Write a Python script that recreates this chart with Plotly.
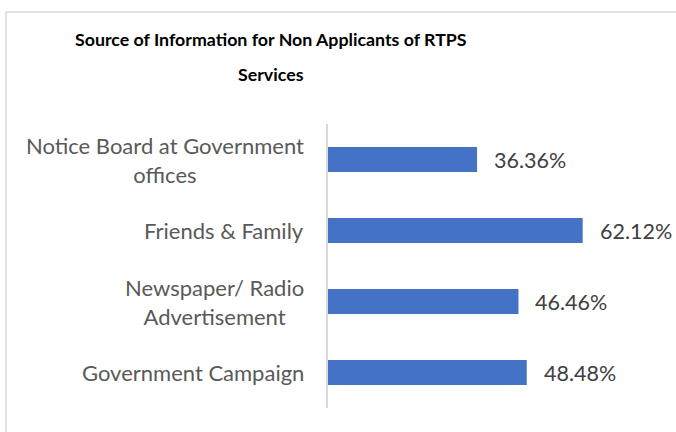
import plotly.graph_objects as go

# Survey results: share of non-applicants citing each source
categories = [
    "Notice Board at Government<br>offices",
    "Friends & Family",
    "Newspaper/ Radio<br>Advertisement",
    "Government Campaign",
]
values = [36.36, 62.12, 46.46, 48.48]

title_lines = ["Source of Information for Non Applicants of RTPS", "Services"]

W, H = 676, 432
ML, MR, MT, MB = 328, 20, 124, 24
plot_w = W - ML - MR
plot_h = H - MT - MB

FONT = "Lato"
BAR = "#4472C4"

fig = go.Figure(
    go.Bar(
        x=values,
        y=categories,
        orientation="h",
        marker=dict(color=BAR, line=dict(width=0)),
        hoverinfo="skip",
    )
)

annotations = []
# category labels, centred line by line, right of the label block at the axis
for c in categories:
    annotations.append(dict(
        x=0, y=c, xref="x", yref="y", text=c, showarrow=False,
        xanchor="right", yanchor="middle", align="center", xshift=-22,
        font=dict(family=FONT, size=22, color="#595959"),
    ))
# value labels beyond the bar ends
for c, v in zip(categories, values):
    annotations.append(dict(
        x=v, y=c, xref="x", yref="y", text=f"{v:.2f}%", showarrow=False,
        xanchor="left", yanchor="middle", xshift=15,
        font=dict(family=FONT, size=21.5, color="#404040"),
    ))
# two-line bold title
for line, ypx in zip(title_lines, [39, 74]):
    annotations.append(dict(
        x=(271 - ML) / plot_w, y=(H - MB - ypx) / plot_h,
        xref="paper", yref="paper", text=f"<b>{line}</b>", showarrow=False,
        xanchor="center", yanchor="middle",
        font=dict(family=FONT, size=17.8, color="#000000"),
    ))

fig.update_layout(
    width=W, height=H,
    margin=dict(l=ML, r=MR, t=MT, b=MB),
    paper_bgcolor="white", plot_bgcolor="white",
    showlegend=False,
    bargap=0.65,
    annotations=annotations,
    shapes=[dict(
        type="rect", xref="paper", yref="paper",
        x0=(6 - ML) / plot_w, x1=(690 - ML) / plot_w,
        y0=(H - MB - 12) / plot_h, y1=(H - MB - 450) / plot_h,
        line=dict(color="#D9D9D9", width=1.5), fillcolor="rgba(0,0,0,0)",
        layer="below",
    )],
)
fig.update_xaxes(range=[0, 80], visible=False, showgrid=False, zeroline=False, fixedrange=True)
fig.update_yaxes(
    autorange="reversed", showticklabels=False, ticks="",
    showline=True, linecolor="#D9D9D9", linewidth=1.5,
    showgrid=False, zeroline=False, fixedrange=True,
)

fig.write_html("out.html", config={"displayModeBar": False})
